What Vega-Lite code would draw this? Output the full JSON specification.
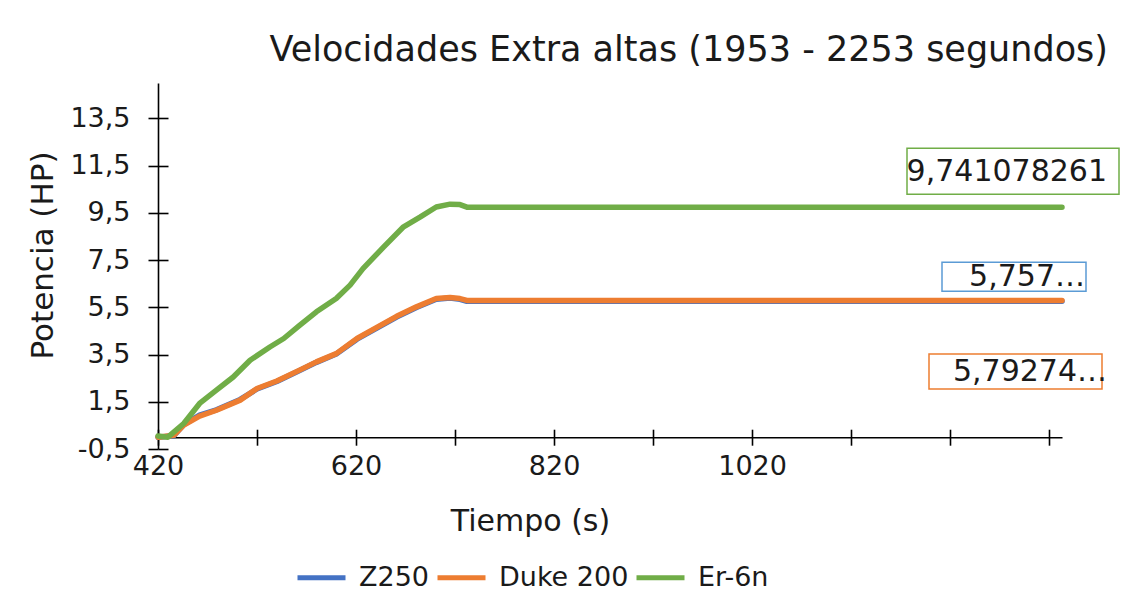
{
  "$schema": "https://vega.github.io/schema/vega-lite/v6.json",
  "width": 904,
  "height": 366,
  "autosize": {"type": "none"},
  "padding": {"left": 158, "top": 83, "right": 63, "bottom": 158},
  "background": "white",
  "title": {
    "text": "Velocidades Extra altas (1953 - 2253 segundos)",
    "anchor": "end",
    "frame": "group",
    "dx": 46,
    "dy": 33,
    "offset": 20,
    "font": "DejaVu Sans",
    "fontSize": 35,
    "fontWeight": "normal",
    "color": "#1a1a1a",
    "baseline": "alphabetic"
  },
  "config": {
    "view": {"stroke": null},
    "font": "DejaVu Sans",
    "axis": {
      "grid": false,
      "domainColor": "#000000",
      "tickColor": "#000000",
      "domainWidth": 1.6,
      "tickWidth": 1.6,
      "labelColor": "#1a1a1a",
      "titleColor": "#1a1a1a",
      "labelFont": "DejaVu Sans",
      "titleFont": "DejaVu Sans",
      "titleFontWeight": "normal"
    }
  },
  "datasets": {
    "series": [
      {"serie": "Z250", "tiempo": 420, "potencia": 0.0},
      {"serie": "Z250", "tiempo": 436, "potencia": 0.06},
      {"serie": "Z250", "tiempo": 446, "potencia": 0.53},
      {"serie": "Z250", "tiempo": 462, "potencia": 0.93},
      {"serie": "Z250", "tiempo": 479, "potencia": 1.16},
      {"serie": "Z250", "tiempo": 503, "potencia": 1.6},
      {"serie": "Z250", "tiempo": 520, "potencia": 2.04},
      {"serie": "Z250", "tiempo": 540, "potencia": 2.36},
      {"serie": "Z250", "tiempo": 563, "potencia": 2.82},
      {"serie": "Z250", "tiempo": 580, "potencia": 3.17},
      {"serie": "Z250", "tiempo": 600, "potencia": 3.52},
      {"serie": "Z250", "tiempo": 621, "potencia": 4.15},
      {"serie": "Z250", "tiempo": 641, "potencia": 4.62},
      {"serie": "Z250", "tiempo": 661, "potencia": 5.09},
      {"serie": "Z250", "tiempo": 681, "potencia": 5.49},
      {"serie": "Z250", "tiempo": 701, "potencia": 5.84},
      {"serie": "Z250", "tiempo": 715, "potencia": 5.89},
      {"serie": "Z250", "tiempo": 725, "potencia": 5.84},
      {"serie": "Z250", "tiempo": 732, "potencia": 5.757},
      {"serie": "Z250", "tiempo": 1333, "potencia": 5.757},
      {"serie": "Duke 200", "tiempo": 420, "potencia": 0.0},
      {"serie": "Duke 200", "tiempo": 436, "potencia": 0.08},
      {"serie": "Duke 200", "tiempo": 446, "potencia": 0.51},
      {"serie": "Duke 200", "tiempo": 462, "potencia": 0.89},
      {"serie": "Duke 200", "tiempo": 479, "potencia": 1.14},
      {"serie": "Duke 200", "tiempo": 503, "potencia": 1.57},
      {"serie": "Duke 200", "tiempo": 520, "potencia": 2.06},
      {"serie": "Duke 200", "tiempo": 540, "potencia": 2.38},
      {"serie": "Duke 200", "tiempo": 563, "potencia": 2.84},
      {"serie": "Duke 200", "tiempo": 580, "potencia": 3.19},
      {"serie": "Duke 200", "tiempo": 600, "potencia": 3.54},
      {"serie": "Duke 200", "tiempo": 621, "potencia": 4.18},
      {"serie": "Duke 200", "tiempo": 641, "potencia": 4.65},
      {"serie": "Duke 200", "tiempo": 661, "potencia": 5.12},
      {"serie": "Duke 200", "tiempo": 681, "potencia": 5.52},
      {"serie": "Duke 200", "tiempo": 701, "potencia": 5.87},
      {"serie": "Duke 200", "tiempo": 715, "potencia": 5.92},
      {"serie": "Duke 200", "tiempo": 725, "potencia": 5.87},
      {"serie": "Duke 200", "tiempo": 732, "potencia": 5.79274},
      {"serie": "Duke 200", "tiempo": 1333, "potencia": 5.79274},
      {"serie": "Er-6n", "tiempo": 420, "potencia": 0.05},
      {"serie": "Er-6n", "tiempo": 430, "potencia": 0.0},
      {"serie": "Er-6n", "tiempo": 446, "potencia": 0.58},
      {"serie": "Er-6n", "tiempo": 462, "potencia": 1.43},
      {"serie": "Er-6n", "tiempo": 479, "potencia": 1.99},
      {"serie": "Er-6n", "tiempo": 496, "potencia": 2.55},
      {"serie": "Er-6n", "tiempo": 513, "potencia": 3.26},
      {"serie": "Er-6n", "tiempo": 533, "potencia": 3.82},
      {"serie": "Er-6n", "tiempo": 547, "potencia": 4.18},
      {"serie": "Er-6n", "tiempo": 563, "potencia": 4.74},
      {"serie": "Er-6n", "tiempo": 580, "potencia": 5.31},
      {"serie": "Er-6n", "tiempo": 600, "potencia": 5.87},
      {"serie": "Er-6n", "tiempo": 614, "potencia": 6.44},
      {"serie": "Er-6n", "tiempo": 627, "potencia": 7.14},
      {"serie": "Er-6n", "tiempo": 648, "potencia": 8.06},
      {"serie": "Er-6n", "tiempo": 668, "potencia": 8.91},
      {"serie": "Er-6n", "tiempo": 685, "potencia": 9.33},
      {"serie": "Er-6n", "tiempo": 701, "potencia": 9.75},
      {"serie": "Er-6n", "tiempo": 715, "potencia": 9.87},
      {"serie": "Er-6n", "tiempo": 725, "potencia": 9.85},
      {"serie": "Er-6n", "tiempo": 732, "potencia": 9.741078261},
      {"serie": "Er-6n", "tiempo": 1333, "potencia": 9.741078261}
    ],
    "labels": [
      {"serie": "Er-6n", "tiempo": 1333, "potencia": 9.741078261, "etiqueta": "9,741078261"},
      {"serie": "Z250", "tiempo": 1333, "potencia": 5.757, "etiqueta": "5,757…"},
      {"serie": "Duke 200", "tiempo": 1333, "potencia": 5.79274, "etiqueta": "5,79274…"}
    ]
  },
  "resolve": {"axis": {"x": "independent", "y": "independent"}},
  "layer": [
    {
      "data": {"name": "series"},
      "transform": [{"filter": "datum.serie == 'Z250'"}],
      "mark": {"type": "line", "strokeWidth": 5.5, "strokeCap": "round", "strokeJoin": "round"},
      "encoding": {
        "x": {
          "field": "tiempo", "type": "quantitative",
          "scale": {"domain": [420, 1333], "nice": false, "zero": false},
          "axis": {
            "orient": "bottom", "offset": -11.8,
            "values": [420, 520, 620, 720, 820, 920, 1020, 1120, 1220, 1320],
            "labelExpr": "((datum.value - 420) % 200 == 0 && datum.value <= 1020) ? datum.label : ''",
            "format": "d",
            "tickSize": 8, "labelPadding": 8, "labelFontSize": 27,
            "labelFlush": false, "labelOverlap": false,
            "title": "Tiempo (s)", "titleFontSize": 30,
            "titleX": 372, "titleY": 84, "titleAlign": "center", "titleBaseline": "middle"
          }
        },
        "y": {
          "field": "potencia", "type": "quantitative",
          "scale": {"domain": [-0.5, 15], "nice": false, "zero": false},
          "axis": {
            "orient": "left",
            "values": [-0.5, 1.5, 3.5, 5.5, 7.5, 9.5, 11.5, 13.5],
            "labelExpr": "replace(replace(format(datum.value, '.1f'), '.', ','), '\u2212', '-')",
            "tickSize": 10, "labelPadding": 18, "labelFontSize": 27,
            "title": "Potencia (HP)", "titleFontSize": 31,
            "titleX": -115, "titleY": 172, "titleAngle": -90,
            "titleAlign": "center", "titleBaseline": "middle"
          }
        },
        "color": {
          "field": "serie", "type": "nominal",
          "scale": {"domain": ["Z250", "Duke 200", "Er-6n"], "range": ["#4472C4", "#ED7D31", "#70AD47"]},
          "legend": {
            "title": null, "orient": "none", "direction": "horizontal",
            "legendX": 137, "legendY": 468,
            "symbolType": "stroke", "symbolSize": 2304, "symbolStrokeWidth": 5,
            "labelFontSize": 27, "labelFont": "DejaVu Sans", "labelColor": "#1a1a1a",
            "labelOffset": 11, "columnPadding": -3
          }
        }
      }
    },
    {
      "data": {"name": "series"},
      "transform": [{"filter": "datum.serie == 'Duke 200'"}],
      "mark": {"type": "line", "strokeWidth": 5.5, "strokeCap": "round", "strokeJoin": "round"},
      "encoding": {
        "x": {
          "field": "tiempo", "type": "quantitative",
          "axis": {
            "orient": "top", "offset": -354.2,
            "values": [420, 520, 620, 720, 820, 920, 1020, 1120, 1220, 1320],
            "tickSize": 8, "labels": false, "domain": false, "title": null
          }
        },
        "y": {
          "field": "potencia", "type": "quantitative",
          "axis": {
            "orient": "right", "offset": -904,
            "values": [-0.5, 1.5, 3.5, 5.5, 7.5, 9.5, 11.5, 13.5],
            "tickSize": 10, "labels": false, "domain": false, "title": null
          }
        },
        "color": {"field": "serie", "type": "nominal"}
      }
    },
    {
      "data": {"name": "series"},
      "transform": [{"filter": "datum.serie == 'Er-6n'"}],
      "mark": {"type": "line", "strokeWidth": 5.5, "strokeCap": "round", "strokeJoin": "round"},
      "encoding": {
        "x": {"field": "tiempo", "type": "quantitative", "axis": null},
        "y": {"field": "potencia", "type": "quantitative", "axis": null},
        "color": {"field": "serie", "type": "nominal"}
      }
    },
    {
      "data": {"name": "labels"},
      "transform": [{"filter": "datum.serie == 'Er-6n'"}],
      "layer": [
        {
          "mark": {"type": "point", "shape": "M-1,-0.217H1V0.217H-1Z", "size": 44944, "filled": false, "stroke": "#70AD47", "strokeWidth": 1.5, "opacity": 1, "xOffset": -49, "yOffset": -36},
          "encoding": {
            "x": {"field": "tiempo", "type": "quantitative", "axis": null},
            "y": {"field": "potencia", "type": "quantitative", "axis": null}
          }
        },
        {
          "mark": {"type": "text", "align": "right", "baseline": "middle", "dx": 45, "dy": -35, "fontSize": 30, "font": "DejaVu Sans", "color": "#1a1a1a"},
          "encoding": {
            "x": {"field": "tiempo", "type": "quantitative", "axis": null},
            "y": {"field": "potencia", "type": "quantitative", "axis": null},
            "text": {"field": "etiqueta"}
          }
        }
      ]
    },
    {
      "data": {"name": "labels"},
      "transform": [{"filter": "datum.serie == 'Z250'"}],
      "layer": [
        {
          "mark": {"type": "point", "shape": "M-1,-0.201H1V0.201H-1Z", "size": 20736, "filled": false, "stroke": "#5B9BD5", "strokeWidth": 1.5, "opacity": 1, "xOffset": -48, "yOffset": -24.5},
          "encoding": {
            "x": {"field": "tiempo", "type": "quantitative", "axis": null},
            "y": {"field": "potencia", "type": "quantitative", "axis": null}
          }
        },
        {
          "mark": {"type": "text", "align": "right", "baseline": "middle", "dx": 23, "dy": -24.5, "fontSize": 30, "font": "DejaVu Sans", "color": "#1a1a1a"},
          "encoding": {
            "x": {"field": "tiempo", "type": "quantitative", "axis": null},
            "y": {"field": "potencia", "type": "quantitative", "axis": null},
            "text": {"field": "etiqueta"}
          }
        }
      ]
    },
    {
      "data": {"name": "labels"},
      "transform": [{"filter": "datum.serie == 'Duke 200'"}],
      "layer": [
        {
          "mark": {"type": "point", "shape": "M-1,-0.202H1V0.202H-1Z", "size": 29929, "filled": false, "stroke": "#ED7D31", "strokeWidth": 1.5, "opacity": 1, "xOffset": -46.5, "yOffset": 71},
          "encoding": {
            "x": {"field": "tiempo", "type": "quantitative", "axis": null},
            "y": {"field": "potencia", "type": "quantitative", "axis": null}
          }
        },
        {
          "mark": {"type": "text", "align": "right", "baseline": "middle", "dx": 45, "dy": 71.5, "fontSize": 30, "font": "DejaVu Sans", "color": "#1a1a1a"},
          "encoding": {
            "x": {"field": "tiempo", "type": "quantitative", "axis": null},
            "y": {"field": "potencia", "type": "quantitative", "axis": null},
            "text": {"field": "etiqueta"}
          }
        }
      ]
    }
  ]
}
